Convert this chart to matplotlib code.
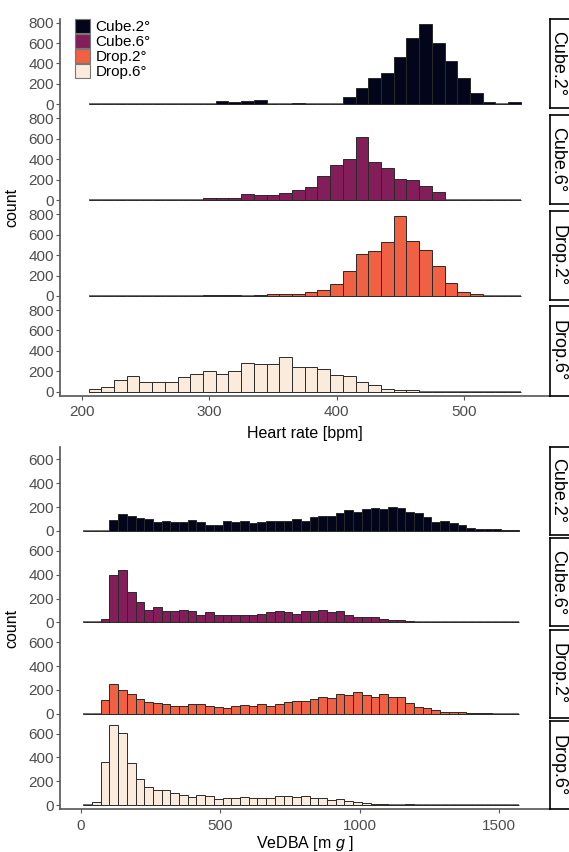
import numpy as np
import matplotlib
matplotlib.use("Agg")
from matplotlib import pyplot as plt
from matplotlib.patches import Patch
from matplotlib.lines import Line2D

plt.rcParams['font.family'] = ['Liberation Sans', 'DejaVu Sans']
plt.rcParams['mathtext.fontset'] = 'custom'
plt.rcParams['mathtext.rm'] = 'Liberation Sans'
plt.rcParams['mathtext.it'] = 'Liberation Sans:italic'

# groups and colours
groups = ["Cube.2°", "Cube.6°", "Drop.2°", "Drop.6°"]
colors = ["#03051A", "#841E5A", "#F06043", "#FAEBDD"]

# heart rate histogram: 34 bins of 10 bpm starting at 205
hr_start = 205
hr_width = 10
hr_cube2 = [0, 0, 0, 0, 0, 0, 0, 0, 0, 0, 30, 18, 28, 38, 0, 8, 15, 0, 0, 5,
            75, 160, 260, 310, 460, 650, 785, 605, 420, 255, 115, 20, 0, 20]
hr_cube6 = [0, 0, 0, 0, 0, 0, 0, 0, 3, 25, 22, 22, 58, 50, 50, 65, 100, 130, 240, 345,
            400, 615, 370, 310, 210, 195, 140, 80, 5, 0, 0, 0, 0, 0]
hr_drop2 = [0, 0, 0, 0, 0, 0, 0, 0, 0, 5, 5, 5, 0, 10, 22, 22, 15, 35, 58, 115,
            245, 410, 445, 530, 785, 540, 450, 290, 122, 38, 15, 0, 0, 0]
hr_drop6 = [25, 50, 110, 150, 95, 95, 95, 140, 175, 200, 175, 205, 285, 270, 275, 345, 240, 245, 225, 160,
            150, 100, 65, 25, 12, 12, 0, 0, 0, 0, 0, 0, 0, 0]

# VeDBA histogram: 50 bins of 31.2 mg starting at 10
vd_start = 10
vd_width = 31.2
vd_cube2 = [0, 0, 0, 90, 145, 128, 110, 103, 72, 80, 75, 75, 92, 78, 52, 52, 80, 75, 85, 65,
            75, 80, 85, 85, 100, 85, 120, 128, 128, 148, 175, 157, 180, 190, 183, 197, 190, 160, 152, 115,
            75, 82, 63, 48, 22, 20, 17, 15, 8, 5]
vd_cube6 = [0, 0, 26, 395, 440, 258, 171, 104, 128, 93, 93, 101, 96, 64, 87, 61, 64, 64, 58, 58,
            70, 87, 96, 84, 72, 96, 99, 107, 90, 96, 64, 49, 49, 41, 29, 23, 17, 12, 6, 3,
            3, 4, 0, 0, 4, 0, 0, 0, 0, 0]
vd_drop2 = [0, 0, 115, 248, 202, 167, 127, 98, 87, 78, 69, 69, 78, 78, 69, 55, 52, 66, 75, 66,
            78, 66, 81, 101, 110, 110, 124, 139, 136, 165, 159, 179, 156, 141, 165, 141, 141, 87, 55, 49,
            32, 17, 17, 17, 5, 5, 5, 0, 0, 0]
vd_drop6 = [2, 25, 365, 670, 608, 350, 220, 150, 125, 125, 105, 85, 72, 85, 78, 55, 60, 60, 65, 60,
            63, 63, 75, 75, 72, 78, 60, 58, 45, 52, 35, 25, 17, 12, 8, 5, 2, 8, 0, 0,
            0, 0, 0, 0, 0, 0, 0, 0, 0, 0]

hr_counts = [hr_cube2, hr_cube6, hr_drop2, hr_drop6]
vd_counts = [vd_cube2, vd_cube6, vd_drop2, vd_drop6]

W, H = 569, 852
fig = plt.figure(figsize=(W / 100, H / 100), dpi=100)

axis_col = "#555555"
tick_col = "#4D4D4D"


def px_axes(left, top, width, height):
    return fig.add_axes([left / W, 1 - (top + height) / H, width / W, height / H])


def draw_chart(counts, start, width, top0, pitch, height, ylim, yticks, xlim, xticks, xlabel, lpad):
    edges = start + width * np.arange(len(counts[0]))
    axes = []
    for i, (c, col, g) in enumerate(zip(counts, colors, groups)):
        top = top0 + i * pitch
        ax = px_axes(60, top, 490, height)
        # zero-count bins show as a grey baseline
        ax.plot([edges[0], edges[-1] + width], [0, 0], color="#6e6e6e",
                linewidth=1.4, zorder=1, solid_capstyle="butt")
        ax.bar(edges, c, width=width, align="edge", color=col,
               edgecolor="#2a2a2a", linewidth=0.7, zorder=2)
        ax.set_xlim(*xlim)
        ax.set_ylim(*ylim)
        ax.set_yticks(yticks)
        ax.tick_params(axis="y", length=3, width=0.8, color=axis_col,
                       labelsize=11, labelcolor=tick_col, pad=1.5)
        for s in ["top", "right", "left"]:
            ax.spines[s].set_visible(False)
        if i < 3:
            ax.spines["bottom"].set_visible(False)
            ax.set_xticks([])
        else:
            ax.spines["bottom"].set_color(axis_col)
            ax.spines["bottom"].set_linewidth(1.2)
            ax.set_xticks(xticks)
            ax.tick_params(axis="x", length=3, width=0.8, color=axis_col,
                           labelsize=11, labelcolor=tick_col, pad=4)
            ax.set_xlabel(xlabel, fontsize=11.5, labelpad=lpad)
        # strip on the right
        sax = px_axes(550, top, 24, height)
        sax.set_xticks([])
        sax.set_yticks([])
        for s in sax.spines.values():
            s.set_linewidth(1.2)
            s.set_color("black")
        sax.text(0.33, 0.5, g, rotation=270, ha="center", va="center",
                 fontsize=13, transform=sax.transAxes)
        axes.append(ax)
    # continuous left axis line
    y_top = 1 - top0 / H
    y_bot = 1 - (top0 + 3 * pitch + height) / H
    fig.add_artist(Line2D([60 / W, 60 / W], [y_bot, y_top], color=axis_col,
                          linewidth=1.2, transform=fig.transFigure))
    fig.text(12 / W, 1 - (top0 + (3 * pitch + height) / 2) / H, "count",
             rotation=90, ha="center", va="center", fontsize=11.5)
    return axes


top_axes = draw_chart(hr_counts, hr_start, hr_width, 19, 95.8, 89.3,
                      (-39, 836), [0, 200, 400, 600, 800], (182.5, 567.9),
                      [200, 300, 400, 500], "Heart rate [bpm]", 5)
bot_axes = draw_chart(vd_counts, vd_start, vd_width, 447, 91.4, 88,
                      (-33.5, 703), [0, 200, 400, 600], (-73.5, 1682.8),
                      [0, 500, 1000, 1500], r"VeDBA [m $\mathit{g}$ ]", 1)

handles = [Patch(facecolor=c, edgecolor="#777777", linewidth=0.8) for c in colors]
fig.legend(handles, groups, loc="upper left", bbox_to_anchor=(72 / W, 1 - 16 / H),
           frameon=False, fontsize=11, handlelength=1.0, handleheight=1.0,
           handletextpad=0.35, labelspacing=0.0, borderpad=0.2, borderaxespad=0)

fig.savefig("out.png", dpi=100)
